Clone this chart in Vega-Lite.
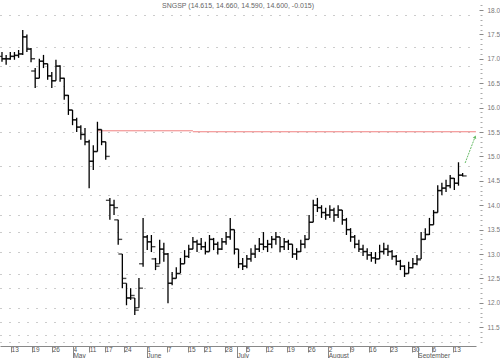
{
  "$schema": "https://vega.github.io/schema/vega-lite/v6.json",
  "width": 476,
  "height": 346,
  "autosize": {"type": "none"},
  "padding": {"left": 0, "top": 0, "right": 24, "bottom": 12},
  "background": "white",
  "config": {"view": {"stroke": null}, "font": "Liberation Sans"},
  "title": {"text": "SNGSP (14.615, 14.660, 14.590, 14.600, -0.015)", "fontSize": 7, "fontWeight": "normal", "color": "#666", "anchor": "middle", "offset": -16, "baseline": "bottom"},
  "datasets": {
    "bars": [
      {"i":0,"o":17.05,"h":17.14,"l":16.94,"c":17.0},
      {"i":1,"o":17.0,"h":17.08,"l":16.88,"c":17.0},
      {"i":2,"o":17.0,"h":17.14,"l":16.98,"c":17.05},
      {"i":3,"o":17.05,"h":17.14,"l":16.98,"c":17.07},
      {"i":4,"o":17.07,"h":17.18,"l":17.02,"c":17.1},
      {"i":5,"o":17.1,"h":17.59,"l":17.08,"c":17.45},
      {"i":6,"o":17.45,"h":17.5,"l":17.14,"c":17.2},
      {"i":7,"o":17.2,"h":17.22,"l":16.93,"c":17.0},
      {"i":8,"o":16.75,"h":16.81,"l":16.4,"c":16.6},
      {"i":9,"o":16.6,"h":17.0,"l":16.6,"c":16.95},
      {"i":10,"o":16.95,"h":17.08,"l":16.81,"c":16.9},
      {"i":11,"o":16.9,"h":16.9,"l":16.57,"c":16.65},
      {"i":12,"o":16.65,"h":16.73,"l":16.4,"c":16.55},
      {"i":13,"o":16.55,"h":16.98,"l":16.55,"c":16.85},
      {"i":14,"o":16.85,"h":16.87,"l":16.53,"c":16.6},
      {"i":15,"o":16.6,"h":16.61,"l":16.16,"c":16.25},
      {"i":16,"o":16.25,"h":16.26,"l":15.85,"c":15.95},
      {"i":17,"o":15.95,"h":15.95,"l":15.64,"c":15.75},
      {"i":18,"o":15.75,"h":15.79,"l":15.5,"c":15.6},
      {"i":19,"o":15.6,"h":15.64,"l":15.34,"c":15.45},
      {"i":20,"o":15.45,"h":15.58,"l":15.23,"c":15.3},
      {"i":21,"o":15.3,"h":15.34,"l":14.35,"c":14.9},
      {"i":22,"o":14.9,"h":15.23,"l":14.72,"c":15.1},
      {"i":23,"o":15.1,"h":15.71,"l":15.1,"c":15.55},
      {"i":24,"o":15.55,"h":15.55,"l":15.23,"c":15.3},
      {"i":25,"o":15.3,"h":15.3,"l":14.93,"c":15.0},
      {"i":26,"o":14.1,"h":14.15,"l":13.7,"c":14.0},
      {"i":27,"o":14.0,"h":14.11,"l":13.8,"c":13.95},
      {"i":28,"o":13.7,"h":13.7,"l":13.19,"c":13.3},
      {"i":29,"o":13.0,"h":13.0,"l":12.3,"c":12.5},
      {"i":30,"o":12.4,"h":12.4,"l":11.95,"c":12.1},
      {"i":31,"o":12.1,"h":12.3,"l":12.06,"c":12.15},
      {"i":32,"o":12.1,"h":12.1,"l":11.75,"c":11.85},
      {"i":33,"o":11.9,"h":12.51,"l":11.9,"c":12.3},
      {"i":34,"o":12.8,"h":13.74,"l":12.74,"c":13.35},
      {"i":35,"o":13.35,"h":13.39,"l":13.08,"c":13.25},
      {"i":36,"o":13.25,"h":13.39,"l":13.04,"c":13.15},
      {"i":37,"o":12.9,"h":12.92,"l":12.67,"c":12.75},
      {"i":38,"o":12.8,"h":13.29,"l":12.8,"c":13.1},
      {"i":39,"o":13.1,"h":13.23,"l":12.84,"c":13.0},
      {"i":40,"o":13.0,"h":13.02,"l":11.99,"c":12.4},
      {"i":41,"o":12.4,"h":12.63,"l":12.36,"c":12.5},
      {"i":42,"o":12.5,"h":12.73,"l":12.5,"c":12.6},
      {"i":43,"o":12.6,"h":12.92,"l":12.61,"c":12.8},
      {"i":44,"o":12.8,"h":13.08,"l":12.8,"c":12.95},
      {"i":45,"o":12.95,"h":13.19,"l":12.92,"c":13.1},
      {"i":46,"o":13.1,"h":13.35,"l":13.1,"c":13.25},
      {"i":47,"o":13.25,"h":13.29,"l":13.04,"c":13.2},
      {"i":48,"o":13.2,"h":13.33,"l":13.08,"c":13.15},
      {"i":49,"o":13.15,"h":13.25,"l":12.99,"c":13.05},
      {"i":50,"o":13.05,"h":13.39,"l":13.05,"c":13.3},
      {"i":51,"o":13.3,"h":13.33,"l":13.08,"c":13.2},
      {"i":52,"o":13.2,"h":13.25,"l":12.99,"c":13.1},
      {"i":53,"o":13.1,"h":13.33,"l":13.08,"c":13.25},
      {"i":54,"o":13.25,"h":13.45,"l":13.19,"c":13.35},
      {"i":55,"o":13.35,"h":13.74,"l":13.29,"c":13.5},
      {"i":56,"o":13.5,"h":13.5,"l":12.99,"c":13.1},
      {"i":57,"o":13.1,"h":13.1,"l":12.71,"c":12.8},
      {"i":58,"o":12.8,"h":12.92,"l":12.67,"c":12.75},
      {"i":59,"o":12.75,"h":12.98,"l":12.71,"c":12.9},
      {"i":60,"o":12.9,"h":13.12,"l":12.84,"c":13.0},
      {"i":61,"o":13.0,"h":13.19,"l":12.92,"c":13.1},
      {"i":62,"o":13.1,"h":13.33,"l":13.04,"c":13.2},
      {"i":63,"o":13.2,"h":13.45,"l":13.08,"c":13.15},
      {"i":64,"o":13.15,"h":13.29,"l":13.04,"c":13.2},
      {"i":65,"o":13.2,"h":13.37,"l":13.12,"c":13.3},
      {"i":66,"o":13.3,"h":13.45,"l":13.19,"c":13.35},
      {"i":67,"o":13.35,"h":13.35,"l":13.04,"c":13.15},
      {"i":68,"o":13.15,"h":13.33,"l":13.08,"c":13.25},
      {"i":69,"o":13.25,"h":13.29,"l":13.08,"c":13.2},
      {"i":70,"o":13.2,"h":13.2,"l":12.92,"c":13.0},
      {"i":71,"o":13.0,"h":13.12,"l":12.88,"c":13.05},
      {"i":72,"o":13.05,"h":13.29,"l":13.04,"c":13.2},
      {"i":73,"o":13.2,"h":13.39,"l":13.12,"c":13.3},
      {"i":74,"o":13.3,"h":13.8,"l":13.3,"c":13.65},
      {"i":75,"o":13.65,"h":14.11,"l":13.65,"c":14.0},
      {"i":76,"o":14.0,"h":14.15,"l":13.86,"c":13.95},
      {"i":77,"o":13.95,"h":14.0,"l":13.74,"c":13.85},
      {"i":78,"o":13.85,"h":13.95,"l":13.7,"c":13.8},
      {"i":79,"o":13.8,"h":14.0,"l":13.74,"c":13.9},
      {"i":80,"o":13.9,"h":13.95,"l":13.66,"c":13.8},
      {"i":81,"o":13.8,"h":14.0,"l":13.74,"c":13.9},
      {"i":82,"o":13.9,"h":13.9,"l":13.6,"c":13.7},
      {"i":83,"o":13.7,"h":13.74,"l":13.39,"c":13.5},
      {"i":84,"o":13.5,"h":13.53,"l":13.25,"c":13.35},
      {"i":85,"o":13.35,"h":13.39,"l":13.12,"c":13.2},
      {"i":86,"o":13.2,"h":13.29,"l":13.04,"c":13.1},
      {"i":87,"o":13.1,"h":13.19,"l":12.96,"c":13.05},
      {"i":88,"o":13.05,"h":13.12,"l":12.88,"c":12.98},
      {"i":89,"o":12.98,"h":13.04,"l":12.84,"c":12.92},
      {"i":90,"o":12.92,"h":13.04,"l":12.8,"c":12.9},
      {"i":91,"o":12.9,"h":13.19,"l":12.9,"c":13.05},
      {"i":92,"o":13.05,"h":13.23,"l":12.99,"c":13.1},
      {"i":93,"o":13.1,"h":13.19,"l":12.96,"c":13.05},
      {"i":94,"o":13.05,"h":13.08,"l":12.88,"c":12.95},
      {"i":95,"o":12.95,"h":12.98,"l":12.77,"c":12.85},
      {"i":96,"o":12.85,"h":12.88,"l":12.67,"c":12.75},
      {"i":97,"o":12.75,"h":12.77,"l":12.53,"c":12.6},
      {"i":98,"o":12.6,"h":12.84,"l":12.6,"c":12.72},
      {"i":99,"o":12.72,"h":12.92,"l":12.71,"c":12.8},
      {"i":100,"o":12.8,"h":12.98,"l":12.77,"c":12.88},
      {"i":101,"o":12.9,"h":13.45,"l":12.9,"c":13.3},
      {"i":102,"o":13.3,"h":13.53,"l":13.29,"c":13.4},
      {"i":103,"o":13.4,"h":13.74,"l":13.39,"c":13.6},
      {"i":104,"o":13.6,"h":13.9,"l":13.6,"c":13.85},
      {"i":105,"o":13.85,"h":14.41,"l":13.85,"c":14.3},
      {"i":106,"o":14.3,"h":14.46,"l":14.21,"c":14.35},
      {"i":107,"o":14.35,"h":14.52,"l":14.27,"c":14.4},
      {"i":108,"o":14.4,"h":14.62,"l":14.35,"c":14.55},
      {"i":109,"o":14.55,"h":14.56,"l":14.31,"c":14.45},
      {"i":110,"o":14.45,"h":14.88,"l":14.4,"c":14.615},
      {"i":111,"o":14.615,"h":14.66,"l":14.59,"c":14.6}
    ],
    "level": [
      {"i0": 22.9, "i1": 46.0, "v": 15.525},
      {"i0": 46.0, "i1": 114.2, "v": 15.505}
    ],
    "arrow": [
      {"i": 111.6, "v": 14.865},
      {"i": 114.0, "v": 15.4}
    ],
    "head": [
      {"i": 114.0, "v": 15.4}
    ]
  },
  "resolve": {"axis": {"x": "independent", "y": "independent"}},
  "layer": [
    {
      "data": {"name": "level"},
      "mark": {"type": "rule", "color": "#f08080", "strokeWidth": 1},
      "encoding": {
        "x": {"field": "i0", "type": "quantitative", "scale": {"domain": [-0.48, 114.22], "nice": false, "zero": false},
          "axis": {"orient": "bottom", "values": [2.2, 7.2, 12.1, 17.1, 21.0, 24.8, 29.4, 34.9, 39.8, 44.8, 48.7, 53.7, 58.8, 63.6, 68.7, 73.7, 78.6, 83.9, 88.4, 93.5, 98.8, 103.6, 108.7],
            "labelExpr": "['13','19','26','4','11','17','24','1','7','15','21','28','5','12','19','26','2','9','16','23','30','6','13'][indexof([2.2, 7.2, 12.1, 17.1, 21.0, 24.8, 29.4, 34.9, 39.8, 44.8, 48.7, 53.7, 58.8, 63.6, 68.7, 73.7, 78.6, 83.9, 88.4, 93.5, 98.8, 103.6, 108.7], datum.value)]",
            "title": null, "grid": false, "domain": true, "domainColor": "#888", "tickColor": "#888", "tickSize": 6,
            "labelAlign": "left", "labelBaseline": "top", "labelDx": 2, "labelPadding": -6, "labelFontSize": 6.5, "labelColor": "#555", "labelFlush": false, "labelOverlap": false}},
        "x2": {"field": "i1"},
        "y": {"field": "v", "type": "quantitative", "scale": {"domain": [11.115, 18.205], "nice": false, "zero": false},
          "axis": {"orient": "right", "values": [11.5, 12.0, 12.5, 13.0, 13.5, 14.0, 14.5, 15.0, 15.5, 16.0, 16.5, 17.0, 17.5, 18.0], "format": ".1f",
            "title": null, "grid": false, "domain": false, "offset": 3, "tickSize": 4, "tickColor": "#888", "labelPadding": 4,
            "labelFontSize": 6.5, "labelColor": "#777", "labelFlush": false, "labelOverlap": false}}
      }
    },
    {
      "data": {"name": "bars"},
      "mark": {"type": "rule", "color": "#000", "strokeWidth": 1.3},
      "encoding": {
        "x": {"field": "i", "type": "quantitative",
          "axis": {"orient": "bottom", "values": [17.1, 34.9, 56.6, 78.6, 100.2],
            "labelExpr": "['May','June','July','August','September'][indexof([17.1, 34.9, 56.6, 78.6, 100.2], datum.value)]",
            "title": null, "grid": false, "domain": false, "tickColor": "#888", "tickSize": 12,
            "labelAlign": "left", "labelBaseline": "top", "labelDx": 2, "labelPadding": -6, "labelFontSize": 6.5, "labelColor": "#555", "labelFlush": false, "labelOverlap": false}},
        "y": {"field": "l", "type": "quantitative",
          "axis": {"orient": "left", "values": [11.2, 11.35, 11.6, 11.9, 12.3, 12.6, 13.05, 13.45, 13.8, 14.2, 14.8, 15.5, 16.1, 16.45, 16.85, 17.25, 17.9],
            "title": null, "labels": false, "ticks": false, "domain": false, "grid": true, "gridColor": "#999", "gridDash": [1, 8], "gridWidth": 1}},
        "y2": {"field": "h"}
      }
    },
    {
      "data": {"name": "bars"},
      "mark": {"type": "tick", "orient": "horizontal", "color": "#000", "size": 4, "thickness": 1.4, "xOffset": -2},
      "encoding": {
        "x": {"field": "i", "type": "quantitative", "axis": null},
        "y": {"field": "o", "type": "quantitative",
          "axis": {"orient": "right", "values": [11.2, 11.3, 11.4, 11.6, 11.7, 11.8, 11.9, 12.1, 12.2, 12.3, 12.4, 12.6, 12.7, 12.8, 12.9, 13.1, 13.2, 13.3, 13.4, 13.6, 13.7, 13.8, 13.9, 14.1, 14.2, 14.3, 14.4, 14.6, 14.7, 14.8, 14.9, 15.1, 15.2, 15.3, 15.4, 15.6, 15.7, 15.8, 15.9, 16.1, 16.2, 16.3, 16.4, 16.6, 16.7, 16.8, 16.9, 17.1, 17.2, 17.3, 17.4, 17.6, 17.7, 17.8, 17.9, 18.1],
            "title": null, "labels": false, "domain": false, "grid": false, "offset": 4, "tickSize": 2, "tickColor": "#aaa"}}
      }
    },
    {
      "data": {"name": "bars"},
      "mark": {"type": "tick", "orient": "horizontal", "color": "#000", "size": 4, "thickness": 1.4, "xOffset": 2},
      "encoding": {
        "x": {"field": "i", "type": "quantitative", "axis": null},
        "y": {"field": "c", "type": "quantitative", "axis": null}
      }
    },
    {
      "data": {"name": "arrow"},
      "mark": {"type": "line", "color": "#66bb66", "strokeWidth": 1, "strokeDash": [2, 1]},
      "encoding": {
        "x": {"field": "i", "type": "quantitative", "axis": null},
        "y": {"field": "v", "type": "quantitative", "axis": null}
      }
    },
    {
      "data": {"name": "head"},
      "mark": {"type": "point", "shape": "triangle-up", "filled": true, "color": "#66bb66", "size": 14, "angle": 23, "opacity": 1},
      "encoding": {
        "x": {"field": "i", "type": "quantitative", "axis": null},
        "y": {"field": "v", "type": "quantitative", "axis": null}
      }
    }
  ]
}
